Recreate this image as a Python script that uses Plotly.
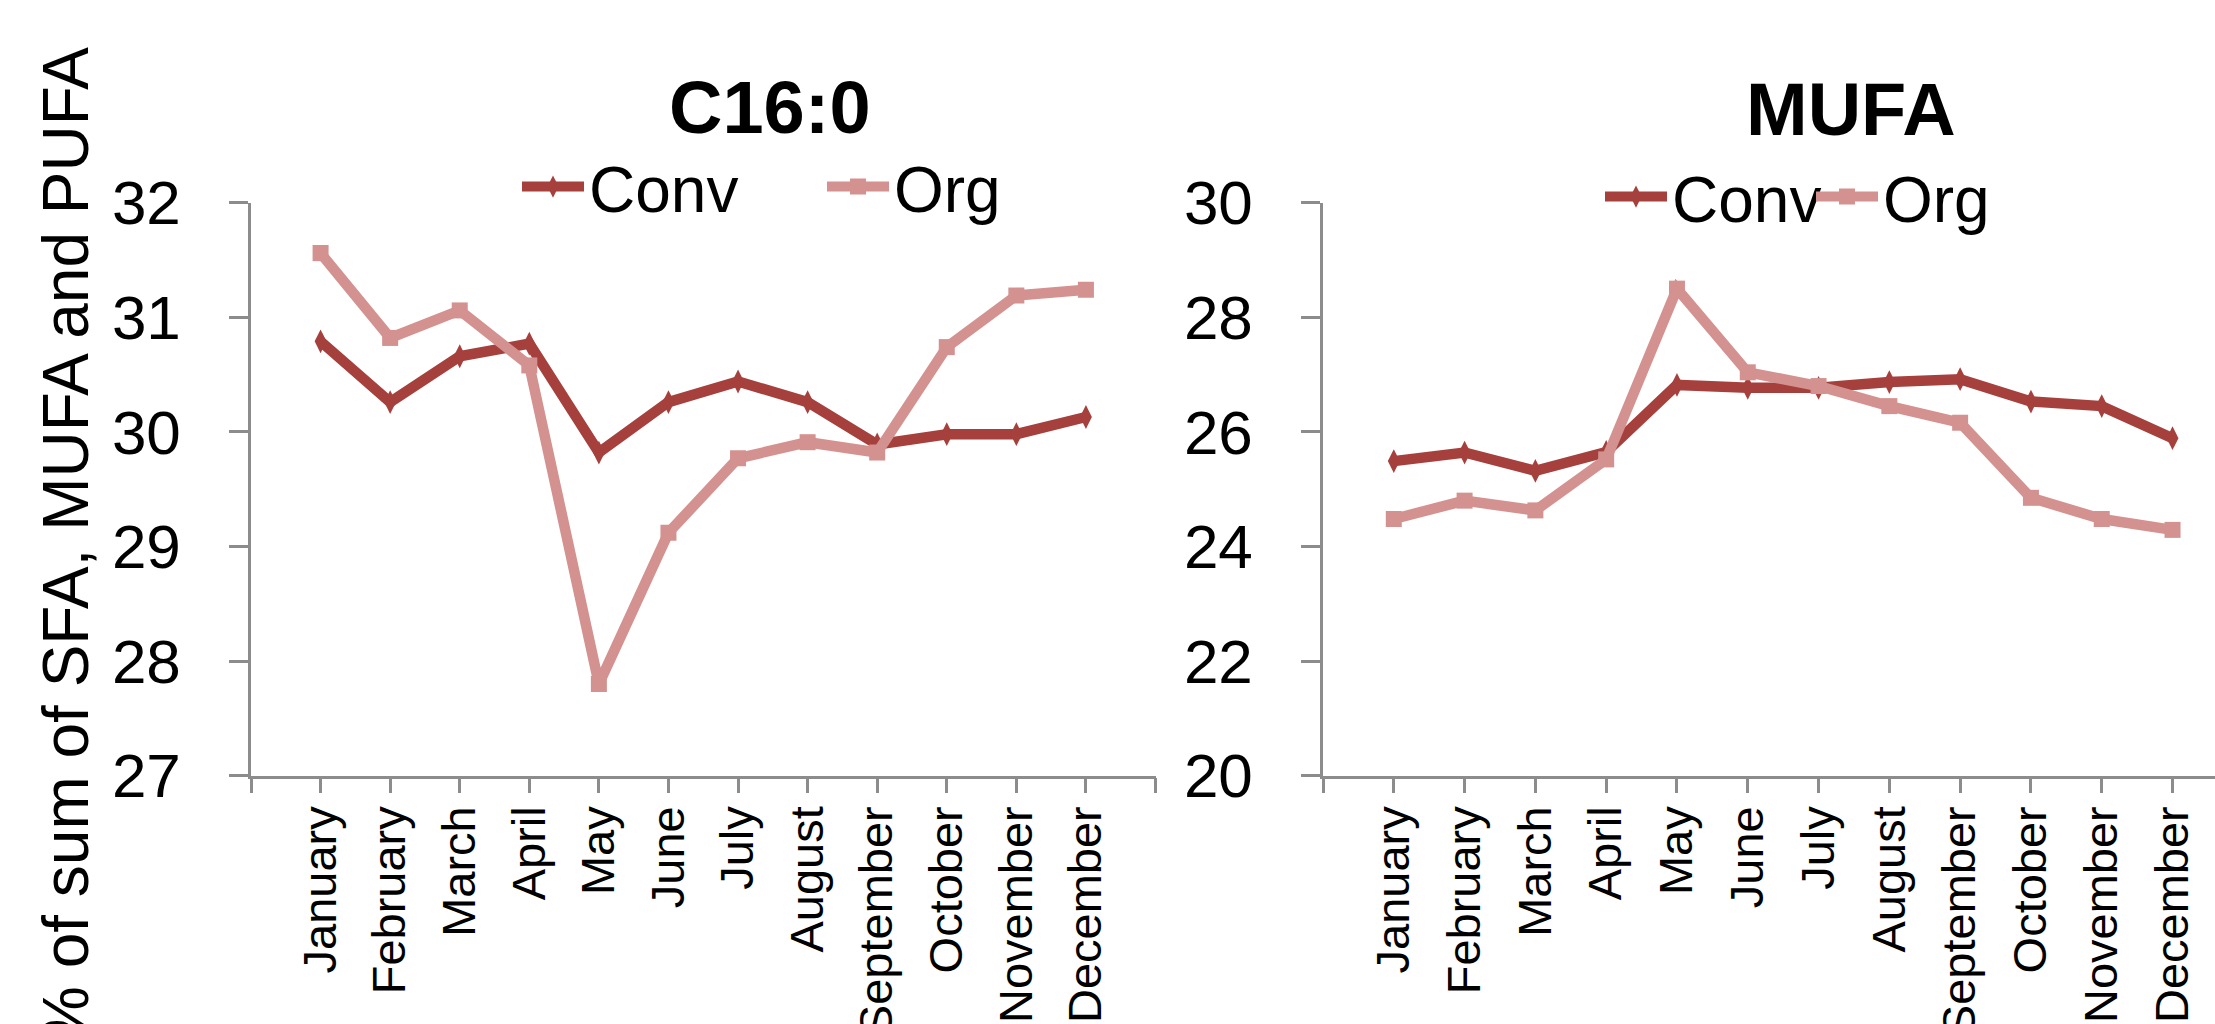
import plotly.graph_objects as go

months = ["January", "February", "March", "April", "May", "June", "July",
          "August", "September", "October", "November", "December"]
month_idx = list(range(len(months)))

c16_conv = [30.79, 30.26, 30.66, 30.77, 29.82, 30.26, 30.44, 30.26, 29.89, 29.98, 29.98, 30.13]
c16_org = [31.56, 30.82, 31.06, 30.58, 27.80, 29.12, 29.77, 29.91, 29.82, 30.74, 31.19, 31.24]
mufa_conv = [25.49, 25.64, 25.32, 25.65, 26.82, 26.77, 26.77, 26.87, 26.92, 26.53, 26.45, 25.89]
mufa_org = [24.48, 24.80, 24.63, 25.52, 28.50, 27.04, 26.80, 26.45, 26.16, 24.85, 24.48, 24.29]

series_names = ["Conv", "Org"]
panel_titles = ["C16:0", "MUFA"]
y_title = "% of sum of SFA, MUFA and PUFA"

CONV_COLOR = "#A5403D"
ORG_COLOR = "#D39290"
AXIS_COLOR = "#8C8C8C"
FONT = "Liberation Sans, Arial, sans-serif"
W, H = 2215, 1024

fig = go.Figure()

def add_pair(conv, org, xa, ya, leg):
    fig.add_trace(go.Scatter(
        x=month_idx, y=conv, name=series_names[0], mode="lines+markers",
        line=dict(color=CONV_COLOR, width=10.5),
        marker=dict(symbol="diamond-tall", size=17, color=CONV_COLOR),
        xaxis=xa, yaxis=ya, legend=leg))
    fig.add_trace(go.Scatter(
        x=month_idx, y=org, name=series_names[1], mode="lines+markers",
        line=dict(color=ORG_COLOR, width=10.5),
        marker=dict(symbol="square", size=16, color=ORG_COLOR),
        xaxis=xa, yaxis=ya, legend=leg))

add_pair(c16_conv, c16_org, "x", "y", "legend")
add_pair(mufa_conv, mufa_org, "x2", "y2", "legend2")

ydom = [1 - 775.7 / H, 1 - 202.7 / H]

xcommon = dict(showline=True, linecolor=AXIS_COLOR, linewidth=2.5,
               ticks="outside", ticklen=15, tickwidth=2.5, tickcolor=AXIS_COLOR,
               tickangle=-90, showgrid=False, zeroline=False, automargin=False,
               tickfont=dict(family=FONT, size=47, color="black"),
               ticklabelstandoff=-6)
ycommon = dict(showline=True, linecolor=AXIS_COLOR, linewidth=2.5,
               ticks="outside", ticklen=19, tickwidth=2.5, tickcolor=AXIS_COLOR,
               showgrid=False, zeroline=False, automargin=False,
               tickfont=dict(family=FONT, size=62, color="black"),
               ticklabelstandoff=36, domain=ydom)

left_ticks = list(range(-1, 13))
left_text = [""] + months + [""]
right_ticks = list(range(-1, 12))
right_text = [""] + months

fig.update_layout(
    width=W, height=H,
    margin=dict(l=0, r=0, t=0, b=0, autoexpand=False),
    paper_bgcolor="white", plot_bgcolor="white",
    font=dict(family=FONT, color="black"),
    xaxis=dict(domain=[251.0 / W, 1155.5 / W], range=[-1, 12],
               tickmode="array", tickvals=left_ticks, ticktext=left_text,
               anchor="y", **xcommon),
    yaxis=dict(range=[27, 32], dtick=1, tick0=27, anchor="x", **ycommon),
    xaxis2=dict(domain=[1323.0 / W, 1.0], range=[-1, 11.6],
                tickmode="array", tickvals=right_ticks, ticktext=right_text,
                anchor="y2", **xcommon),
    yaxis2=dict(range=[20, 30], dtick=2, tick0=20, anchor="x2", **ycommon),
    legend=dict(orientation="h", x=517.0 / W, y=1 - 187.0 / H,
                xanchor="left", yanchor="middle", bgcolor="rgba(0,0,0,0)",
                font=dict(family=FONT, size=64, color="black"),
                entrywidth=228, itemwidth=62, tracegroupgap=0),
    legend2=dict(orientation="h", x=1600.0 / W, y=1 - 197.0 / H,
                 xanchor="left", yanchor="middle", bgcolor="rgba(0,0,0,0)",
                 font=dict(family=FONT, size=64, color="black"),
                 entrywidth=134, itemwidth=62, tracegroupgap=0),
    showlegend=True,
)

fig.add_annotation(text="<b>" + panel_titles[0] + "</b>", xref="paper", yref="paper",
                   x=770.0 / W, y=1 - 107.0 / H, showarrow=False,
                   xanchor="center", yanchor="middle",
                   font=dict(family=FONT, size=74, color="black"))
fig.add_annotation(text="<b>" + panel_titles[1] + "</b>", xref="paper", yref="paper",
                   x=1851.0 / W, y=1 - 109.0 / H, showarrow=False,
                   xanchor="center", yanchor="middle",
                   font=dict(family=FONT, size=74, color="black"))
fig.add_annotation(text=y_title, xref="paper", yref="paper",
                   x=66.0 / W, y=1 - 545.0 / H, showarrow=False, textangle=-90,
                   xanchor="center", yanchor="middle",
                   font=dict(family=FONT, size=64, color="black"))

fig.write_html("out.html", config={"displayModeBar": False},
               post_script="document.body.style.margin='0';document.body.style.overflow='hidden';")
